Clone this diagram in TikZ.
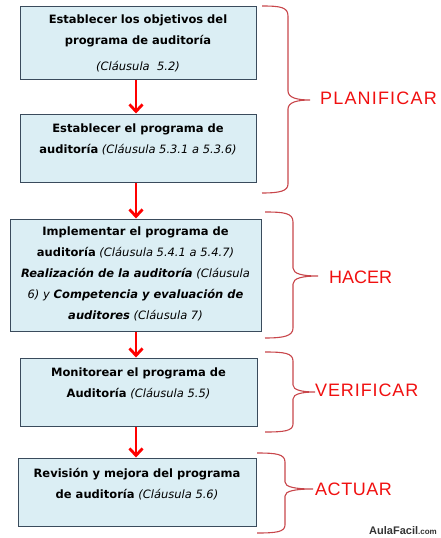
\documentclass[tikz,border=0pt]{standalone}
\usepackage{fontspec}
\setmainfont{DejaVu Sans}
\newfontfamily\labfont{Liberation Sans}
\usetikzlibrary{arrows.meta}
\definecolor{boxfill}{HTML}{DBEEF4}
\definecolor{boxline}{HTML}{3A4B5C}
\definecolor{bracecol}{HTML}{C8464B}
\definecolor{labred}{HTML}{F01010}
\tikzset{
  box/.style={draw=boxline, line width=1pt, fill=boxfill, inner sep=0pt},
  txt/.style={align=center, inner sep=0pt, font=\fontsize{11.5}{21}\selectfont},
  arr/.style={draw=red, line width=2.8pt, -{Straight Barb[length=7pt,width=13pt,line width=2.8pt]}},
  brace/.style={draw=bracecol, line width=1.1pt},
  phase/.style={anchor=west, inner sep=0pt, text=labred, font=\labfont\fontsize{18}{20}\selectfont}
}
\begin{document}
\begin{tikzpicture}[x=1pt,y=-1pt]
\useasboundingbox (0,0) rectangle (441,538);
% boxes
\node[box, minimum width=236pt, minimum height=73pt] (b1) at (138,42.5) {};
\node[box, minimum width=236pt, minimum height=68pt] (b2) at (138,148) {};
\node[box, minimum width=251pt, minimum height=112pt] (b3) at (135.5,275) {};
\node[box, minimum width=237pt, minimum height=68pt] (b4) at (138.5,392) {};
\node[box, minimum width=238pt, minimum height=68pt] (b5) at (137,492) {};
% texts
\node[txt] (t1) at (138,43.5) {\textbf{Establecer los objetivos del}\\\textbf{programa de auditoría}\\[5pt]\textit{(Cláusula\ \ 5.2)}};
\node[txt] (t2) at (138,139.5) {\textbf{Establecer el programa de}\\\textbf{auditoría} \textit{(Cláusula 5.3.1 a 5.3.6)}};
\node[txt] (t3) at (135.5,273.5) {\textbf{Implementar el programa de}\\\textbf{auditoría} \textit{(Cláusula 5.4.1 a 5.4.7)}\\\textbf{\textit{Realización de la auditoría}} \textit{(Cláusula}\\\textit{6) y} \textbf{\textit{Competencia y evaluación de}}\\\textbf{\textit{auditores}} \textit{(Cláusula 7)}};
\node[txt] (t4) at (138.5,383.5) {\textbf{Monitorear el programa de}\\\textbf{Auditoría} \textit{(Cláusula 5.5)}};
\node[txt] (t5) at (137,484) {\textbf{Revisión y mejora del programa}\\\textbf{de auditoría} \textit{(Cláusula 5.6)}};
% arrows
\draw[arr] (b1.south -| 136,0) -- (b2.north -| 136,0);
\draw[arr] (b2.south -| 136,0) -- (b3.north -| 136,0);
\draw[arr] (b3.south -| 136,0) -- (b4.north -| 136,0);
\draw[arr] (b4.south -| 136,0) -- (b5.north -| 136,0);
% braces
\draw[brace] (262,6) .. controls (280,6) and (288,7) .. (288,16) -- (288,91)
  .. controls (288,98) and (298,100) .. (310,100)
  .. controls (298,100) and (288,102) .. (288,109) -- (288,184)
  .. controls (288,191) and (280,193) .. (262,193);
\draw[brace] (265,212) .. controls (284,212) and (293,213) .. (293,222) -- (293,268)
  .. controls (293,274) and (303,276) .. (318,276)
  .. controls (303,276) and (293,278) .. (293,284) -- (293,328)
  .. controls (293,336) and (284,338) .. (265,338);
\draw[brace] (265,352) .. controls (284,352) and (293,353) .. (293,361) -- (293,385)
  .. controls (293,390) and (302,392) .. (315,392)
  .. controls (302,392) and (293,394) .. (293,399) -- (293,424)
  .. controls (293,431) and (284,432) .. (265,432);
\draw[brace] (257,453) .. controls (276,453) and (285,454) .. (285,462) -- (285,482)
  .. controls (285,487) and (295,489) .. (313,489)
  .. controls (295,489) and (285,491) .. (285,496) -- (285,525)
  .. controls (285,532) and (276,533) .. (257,533);
% phase labels
\node[phase] (lp) at (320,98) {\addfontfeature{LetterSpace=6.5}PLANIFICAR};
\node[phase] (lh) at (329,277) {HACER};
\node[phase] (lv) at (315,390) {\addfontfeature{LetterSpace=5}VERIFICAR};
\node[phase] (la) at (315,489) {\addfontfeature{LetterSpace=3}ACTUAR};
% watermark
\node[anchor=base east, inner sep=0pt, text=black!80] (wm) at (437,534) {\labfont\fontsize{11}{12}\selectfont\textbf{AulaFacil}{\fontsize{8}{9}\selectfont\textbf{.com}}};
\end{tikzpicture}
\end{document}
